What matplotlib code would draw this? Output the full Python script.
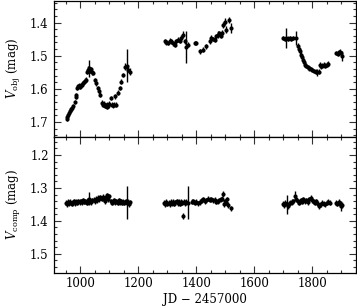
import matplotlib
matplotlib.use("Agg")
import matplotlib.pyplot as plt
from matplotlib.ticker import MultipleLocator

plt.rcParams['font.family'] = 'DejaVu Serif'
plt.rcParams['mathtext.fontset'] = 'dejavuserif'

# object star light curve (JD - 2457000, V mag, error)
obj_jd = [952, 955, 958, 962, 965, 968, 972, 975, 980, 984, 986, 989, 992, 995, 998,
          1001, 1004, 1008, 1012, 1016, 1020, 1024, 1027, 1030, 1033, 1036, 1040, 1043,
          1049, 1055, 1061, 1064, 1069, 1074, 1078, 1081, 1084, 1087, 1090, 1093, 1096,
          1100, 1104, 1108, 1112, 1116, 1120, 1123, 1130, 1136, 1141, 1147, 1155, 1159,
          1164, 1170,
          1291, 1296, 1302, 1308, 1314, 1320, 1325, 1331, 1337, 1342, 1348, 1354, 1360,
          1366, 1371, 1394, 1400, 1412, 1423, 1432, 1446, 1452, 1457, 1463, 1469, 1475,
          1480, 1486, 1490, 1492, 1498, 1504, 1512, 1521,
          1699, 1705, 1710, 1716, 1722, 1728, 1733, 1745, 1751, 1755, 1758, 1762, 1765,
          1768, 1772, 1776, 1780, 1785, 1790, 1795, 1800, 1806, 1812, 1818, 1822, 1826,
          1830, 1835, 1840, 1845, 1850, 1855, 1882, 1888, 1893, 1897, 1901, 1904]
obj_mag = [1.690, 1.684, 1.680, 1.672, 1.666, 1.662, 1.659, 1.652, 1.640, 1.624, 1.619,
           1.598, 1.592, 1.590, 1.594, 1.589, 1.587, 1.582, 1.579, 1.575, 1.572, 1.548,
           1.542, 1.538, 1.545, 1.541, 1.550, 1.552, 1.573, 1.583, 1.598, 1.608, 1.618,
           1.642, 1.648, 1.645, 1.652, 1.650, 1.655, 1.648, 1.652, 1.645, 1.628, 1.648,
           1.650, 1.648, 1.623, 1.648, 1.612, 1.598, 1.578, 1.558, 1.533, 1.530, 1.542,
           1.548,
           1.457, 1.460, 1.462, 1.455, 1.457, 1.463, 1.467, 1.457, 1.452, 1.455, 1.447,
           1.437, 1.457, 1.475, 1.467, 1.462, 1.462, 1.487, 1.482, 1.472, 1.457, 1.447,
           1.450, 1.452, 1.442, 1.437, 1.432, 1.440, 1.432, 1.407, 1.397, 1.422, 1.392,
           1.417,
           1.447, 1.450, 1.447, 1.449, 1.447, 1.450, 1.447, 1.447, 1.470, 1.480, 1.487,
           1.497, 1.503, 1.512, 1.520, 1.527, 1.530, 1.535, 1.538, 1.540, 1.543, 1.546,
           1.548, 1.550, 1.548, 1.528, 1.532, 1.530, 1.527, 1.530, 1.527, 1.524, 1.492,
           1.494, 1.490, 1.488, 1.493, 1.500]
# typical error, and the few larger bars that stand out
obj_err_typ = 0.007
obj_err_big = {1027: 0.010, 1030: 0.025, 1155: 0.010, 1159: 0.050, 1164: 0.008,
               1170: 0.010, 1348: 0.010, 1354: 0.010, 1366: 0.048, 1452: 0.010,
               1475: 0.010, 1490: 0.010, 1492: 0.010, 1498: 0.010, 1504: 0.010,
               1512: 0.010, 1521: 0.015, 1710: 0.030, 1745: 0.020, 1818: 0.010,
               1826: 0.010, 1904: 0.015}

# comparison star
comp_jd = [950, 954, 957, 961, 965, 969, 973, 977, 981, 985, 989, 993, 997, 1001, 1005,
           1009, 1013, 1017, 1021, 1025, 1029, 1033, 1037, 1041, 1045, 1049, 1053, 1057,
           1061, 1065, 1069, 1073, 1077, 1080, 1084, 1088, 1092, 1096, 1100, 1104, 1108,
           1112, 1116, 1120, 1124, 1128, 1132, 1136, 1140, 1144, 1148, 1152, 1156, 1159,
           1163, 1167, 1170,
           1288, 1292, 1296, 1300, 1304, 1308, 1312, 1316, 1320, 1324, 1328, 1332, 1336,
           1340, 1344, 1348, 1352, 1355, 1358, 1362, 1366, 1370, 1385, 1390, 1395, 1400,
           1405, 1412, 1418, 1424, 1430, 1435, 1442, 1447, 1452, 1458, 1463, 1468, 1475,
           1480, 1485, 1490, 1493, 1496, 1498, 1502, 1507, 1511, 1521,
           1700, 1704, 1708, 1712, 1716, 1720, 1725, 1730, 1735, 1741, 1745, 1750, 1755,
           1760, 1765, 1770, 1775, 1780, 1785, 1790, 1795, 1800, 1805, 1810, 1815, 1820,
           1825, 1830, 1835, 1840, 1845, 1850, 1855, 1860, 1882, 1887, 1892, 1896, 1900,
           1904]
comp_mag = [1.345, 1.350, 1.342, 1.346, 1.343, 1.348, 1.344, 1.340, 1.346, 1.342, 1.345,
            1.341, 1.343, 1.340, 1.344, 1.338, 1.342, 1.340, 1.345, 1.338, 1.332, 1.340,
            1.344, 1.338, 1.336, 1.340, 1.333, 1.338, 1.330, 1.335, 1.328, 1.332, 1.326,
            1.335, 1.340, 1.328, 1.322, 1.335, 1.325, 1.340, 1.345, 1.342, 1.338, 1.343,
            1.340, 1.345, 1.338, 1.343, 1.340, 1.345, 1.342, 1.345, 1.340, 1.345, 1.343,
            1.350, 1.344,
            1.345, 1.350, 1.343, 1.348, 1.345, 1.350, 1.342, 1.347, 1.343, 1.348, 1.344,
            1.341, 1.346, 1.343, 1.348, 1.343, 1.345, 1.385, 1.342, 1.346, 1.343, 1.345,
            1.342, 1.340, 1.345, 1.342, 1.347, 1.343, 1.338, 1.335, 1.340, 1.338, 1.333,
            1.336, 1.335, 1.338, 1.336, 1.342, 1.340, 1.337, 1.335, 1.333, 1.318, 1.350,
            1.340, 1.345, 1.335, 1.352, 1.362,
            1.348, 1.352, 1.345, 1.350, 1.355, 1.348, 1.345, 1.343, 1.340, 1.325, 1.335,
            1.340, 1.345, 1.338, 1.342, 1.335, 1.340, 1.338, 1.343, 1.335, 1.330, 1.338,
            1.342, 1.345, 1.340, 1.348, 1.355, 1.350, 1.345, 1.348, 1.350, 1.345, 1.342,
            1.345, 1.345, 1.348, 1.343, 1.350, 1.355, 1.352]
comp_err_typ = 0.008
comp_err_big = {1029: 0.020, 1159: 0.050, 1355: 0.010, 1370: 0.050, 1712: 0.030,
                1741: 0.015, 1900: 0.015}

obj_err = [obj_err_big.get(j, obj_err_typ) for j in obj_jd]
comp_err = [comp_err_big.get(j, comp_err_typ) for j in comp_jd]

fig = plt.figure(figsize=(3.57, 3.07), dpi=100)
ax1 = fig.add_axes([0.150, 0.554, 0.846, 0.444])
ax2 = fig.add_axes([0.150, 0.112, 0.846, 0.442])

for ax, jd, mag, err in [(ax1, obj_jd, obj_mag, obj_err), (ax2, comp_jd, comp_mag, comp_err)]:
    ax.errorbar(jd, mag, yerr=err, fmt='o', color='black', ms=3.0, mew=0,
                elinewidth=1.0, capsize=0)
    ax.set_xlim(907, 1950)
    ax.xaxis.set_major_locator(MultipleLocator(200))
    ax.xaxis.set_minor_locator(MultipleLocator(50))
    ax.yaxis.set_major_locator(MultipleLocator(0.1))
    ax.yaxis.set_minor_locator(MultipleLocator(0.02))
    ax.tick_params(which='both', direction='in', top=True, right=True,
                   labelsize=8.5, width=0.8, color='#333333')
    ax.tick_params(which='major', length=5)
    ax.tick_params(which='minor', length=2.5)
    for s in ax.spines.values():
        s.set_linewidth(0.9)

ax1.set_ylim(1.745, 1.334)
ax2.set_ylim(1.557, 1.145)
ax1.set_yticks([1.4, 1.5, 1.6, 1.7])
ax2.set_yticks([1.2, 1.3, 1.4, 1.5])
ax1.tick_params(labelbottom=False)

ax1.set_ylabel(r'$V_{\rm obj}$ (mag)', fontsize=8.5, labelpad=5)
ax2.set_ylabel(r'$V_{\rm comp}$ (mag)', fontsize=8.5, labelpad=5)
ax2.set_xlabel('JD \u2212 2457000', fontsize=8.5, labelpad=2)
fig.align_ylabels([ax1, ax2])

fig.savefig('out.png', dpi=100)
